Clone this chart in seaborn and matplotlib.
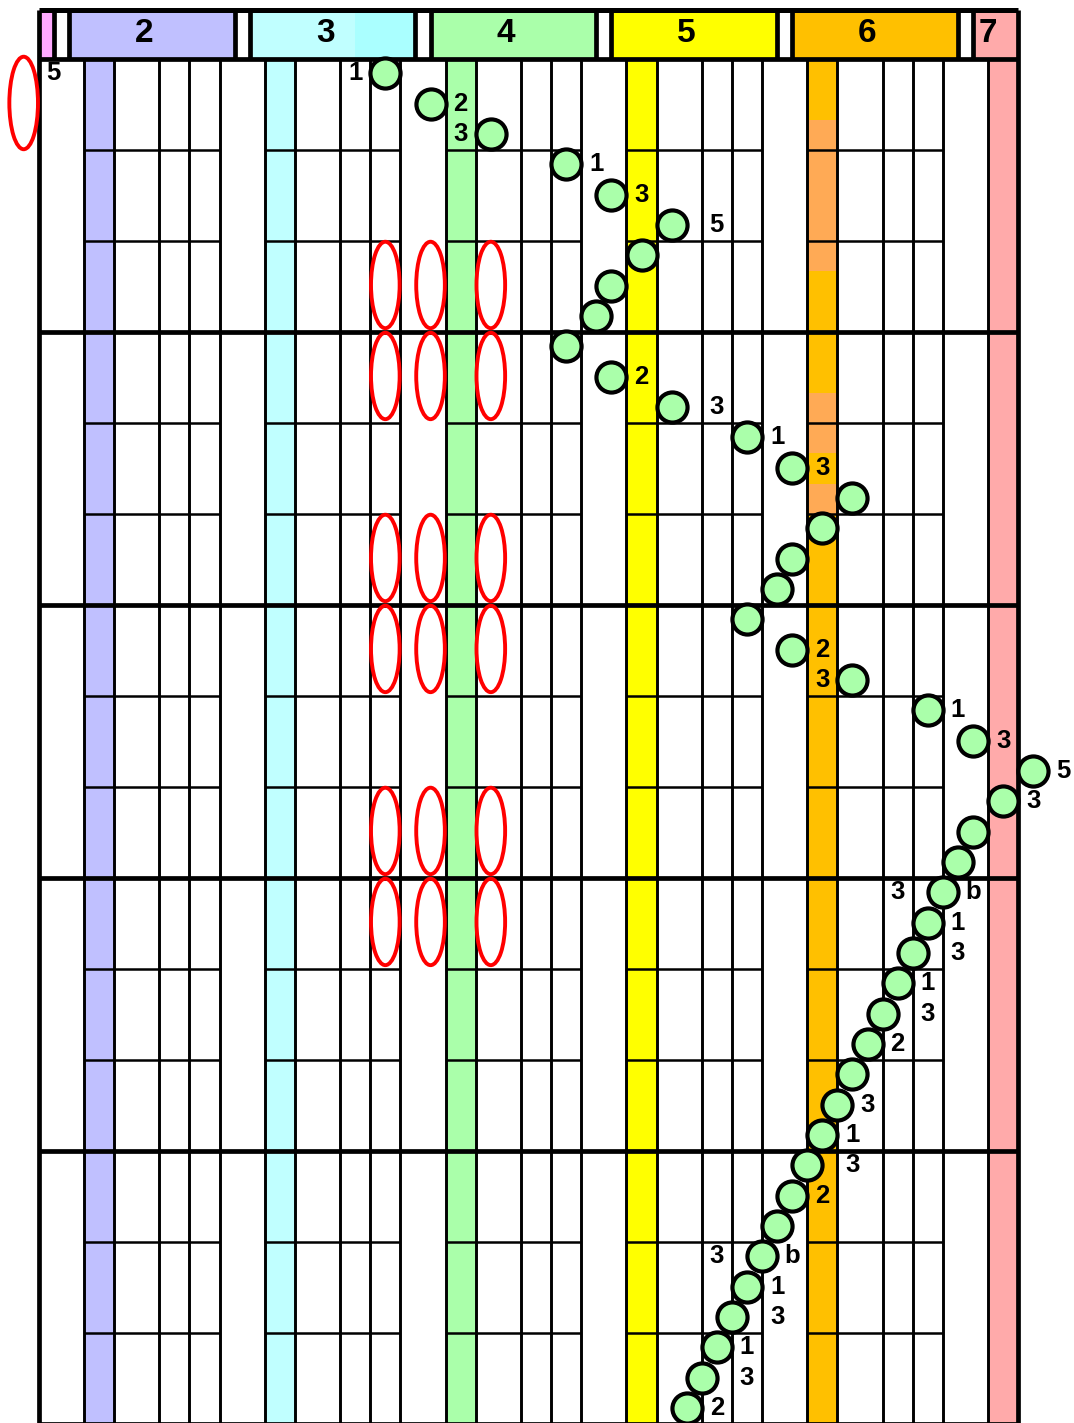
import numpy as np
import pandas as pd
import matplotlib
matplotlib.use("Agg")
import matplotlib.pyplot as plt
import seaborn as sns
from matplotlib.patches import Rectangle, Ellipse

# x = semitones above C2, y = triplet-eighth slots from the top of the grid
OCTAVES = [2, 3, 4, 5, 6, 7]
OCT_COLORS = ["#C0C0FF", "#C0FFFF", "#AAFFAA", "#FFFF00", "#FFC000", "#FFAAAA"]
OCT1_COLOR = "#FFAAFF"

# melody: one note per triplet slot (45 slots = 5 bars of 3/4)
NOTE_PITCH = [19, 22, 26, 31, 34, 38, 36, 34, 33, 31, 34, 38, 43, 46, 50,
              48, 46, 45, 43, 46, 50, 55, 58, 62, 60, 58, 57, 56, 55, 54,
              53, 52, 51, 50, 49, 48, 47, 46, 45, 44, 43, 42, 41, 40, 39]

# fingering / accidental labels: slot, text, offset in semitones
LABEL_SLOT = [0, 1, 2, 3, 4, 5, 10, 11, 12, 13, 19, 20, 21, 22, 23, 24,
              27, 27, 28, 29, 30, 31, 32, 34, 35, 36, 37, 39, 39, 40, 41,
              42, 43, 44]
LABEL_TEXT = ["1", "2", "3", "1", "3", "5", "2", "3", "1", "3", "2", "3",
              "1", "3", "5", "3", "3", "b", "1", "3", "1", "3", "2", "3",
              "1", "3", "2", "3", "b", "1", "3", "1", "3", "2"]
LABEL_DX = [-2, 2, -2, 2, 2, 3, 2, 3, 2, 2, 2, -2, 2, 2, 2, 2, -3, 2, 2, 3,
            2, 3, 2, 2, 2, 3, 2, -3, 2, 2, 3, 2, 3, 2]

# left hand: red ovals (beats counted from the top)
BASS_PITCH = [-5]
BASS_BEAT = [0]
BASS_LABEL = ["5"]
CHORD_PITCHES = [19, 22, 26]
CHORD_BEATS = [2, 3, 5, 6, 8, 9]

# lighter segments on the C6 column (slot ranges)
C6_LIGHT = [(2, 7), (11, 13), (14, 15)]

N_SLOTS = 45
HEAD_TOP = -1.63
LEFT, RIGHT = -4, 61

sns.set_theme(style="white")
plt.rcParams["font.family"] = ["Liberation Sans", "DejaVu Sans"]
plt.rcParams["text.color"] = "black"

fig = plt.figure(figsize=(10.74, 14.23), dpi=100)
ax = fig.add_axes([0, 0, 1, 1])

# coloured C columns
for k, col in enumerate(OCT_COLORS):
    ax.add_patch(Rectangle((12 * k - 1, 0), 2, N_SLOTS, facecolor=col,
                           edgecolor="none", zorder=1))
for t0, t1 in C6_LIGHT:
    ax.add_patch(Rectangle((47, t0), 2, t1 - t0, facecolor="#FFAA55",
                           edgecolor="none", zorder=1.1))

# vertical grid lines
vx = [12 * k + d for k in range(5) for d in (-1, 1, 4, 6, 8)] + [59]
ax.vlines(vx, 0, N_SLOTS, color="black", lw=2.1, zorder=2)

# beat lines (not across A-B or outside the octaves)
beat_t = [t for t in range(3, N_SLOTS, 3) if t % 9 != 0]
for k in range(5):
    ax.hlines(beat_t, 12 * k - 1, 12 * k + 8, color="black", lw=1.8, zorder=2)

# bar lines
ax.hlines(list(range(0, N_SLOTS + 1, 9)), LEFT, RIGHT, color="black", lw=3.4, zorder=3)

# header row
ax.add_patch(Rectangle((-4, HEAD_TOP), 1, -HEAD_TOP, facecolor=OCT1_COLOR, edgecolor="none", zorder=1))
for k, col in enumerate(OCT_COLORS):
    x0 = 12 * k - 2
    x1 = min(x0 + 11, RIGHT)
    ax.add_patch(Rectangle((x0, HEAD_TOP), x1 - x0, -HEAD_TOP, facecolor=col,
                           edgecolor="none", zorder=1))
ax.add_patch(Rectangle((17, HEAD_TOP), 4, -HEAD_TOP, facecolor="#AAFFFF", edgecolor="none", zorder=1.1))
head_x = [-3, -2, 9, 10, 21, 22, 33, 34, 45, 46, 57, 58]
ax.vlines(head_x, HEAD_TOP, 0, color="black", lw=3.4, zorder=3)
ax.hlines(HEAD_TOP, LEFT, RIGHT, color="black", lw=3.6, zorder=3)
ax.vlines([LEFT, RIGHT], HEAD_TOP, N_SLOTS, color="black", lw=3.4, zorder=3)
for k, octv in enumerate(OCTAVES):
    ax.text(min(12 * k + 3, 59), -0.84, str(octv), ha="center", va="center",
            fontsize=24, fontweight="bold", color="black", zorder=5)

# left hand ovals
for p, b in zip(BASS_PITCH, BASS_BEAT):
    ax.add_patch(Ellipse((p, 3 * b + 1.45), 1.9, 3.05, facecolor="none",
                         edgecolor="#FF0000", lw=2.8, zorder=4))
for p, b, lab in zip(BASS_PITCH, BASS_BEAT, BASS_LABEL):
    ax.text(p + 2, 3 * b + 0.47, lab, ha="center", va="center",
            fontsize=18.5, fontweight="bold", color="black", zorder=5)
for b in CHORD_BEATS:
    for p in CHORD_PITCHES:
        ax.add_patch(Ellipse((p, 3 * b + 1.45), 1.9, 2.85, facecolor="none",
                             edgecolor="#FF0000", lw=2.8, zorder=4))

# melody notes
notes = pd.DataFrame({"pitch": NOTE_PITCH, "slot": np.arange(N_SLOTS) + 0.47})
sns.scatterplot(data=notes, x="pitch", y="slot", s=470, color="#AAFFAA",
                edgecolor="black", linewidth=3.0, zorder=6, legend=False, ax=ax)

for sl, txt, dx in zip(LABEL_SLOT, LABEL_TEXT, LABEL_DX):
    ax.text(NOTE_PITCH[sl] + dx, sl + 0.47, txt, ha="center", va="center",
            fontsize=18.5, fontweight="bold", color="black", zorder=7)

ax.set_xlim(-6.57, 64.70)
ax.set_ylim(44.97, -1.945)
ax.axis("off")

fig.savefig("out.png", dpi=100, facecolor="white")
